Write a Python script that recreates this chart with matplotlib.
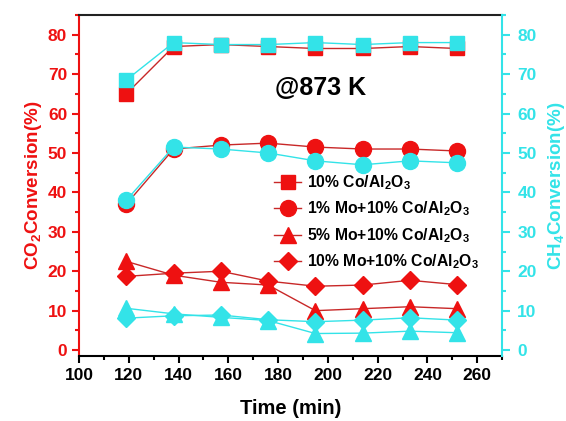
import matplotlib
matplotlib.use("Agg")
import matplotlib.pyplot as plt
from matplotlib.ticker import MultipleLocator

plt.rcParams['font.family'] = ['Liberation Sans', 'DejaVu Sans']
plt.rcParams['font.weight'] = 'bold'
plt.rcParams['mathtext.fontset'] = 'custom'
plt.rcParams['mathtext.rm'] = 'Liberation Sans:bold'
plt.rcParams['mathtext.bf'] = 'Liberation Sans:bold'
plt.rcParams['mathtext.default'] = 'rm'

# time on stream (min)
time_min = [119, 138, 157, 176, 195, 214, 233, 252]

# CO2 conversion (%)
co2_co = [65, 77, 77.5, 77, 76.5, 76.5, 77, 76.5]
co2_mo1 = [37, 51, 52, 52.5, 51.5, 51, 51, 50.5]
co2_mo5 = [22.5, 19, 17.2, 16.5, 10, 10.5, 11, 10.5]
co2_mo10 = [18.7, 19.5, 20, 17.5, 16.2, 16.5, 17.7, 16.6]

# CH4 conversion (%)
ch4_co = [68.5, 78, 77.5, 77.5, 78, 77.5, 78, 78]
ch4_mo1 = [38, 51.5, 51, 50, 48, 47, 48, 47.5]
ch4_mo5 = [10.6, 9.2, 8.3, 7.5, 4.2, 4.3, 4.8, 4.4]
ch4_mo10 = [8.1, 8.7, 8.9, 7.7, 7.2, 7.6, 8.2, 7.6]

labels = [r'10% Co/Al$_2$O$_3$', r'1% Mo+10% Co/Al$_2$O$_3$',
          r'5% Mo+10% Co/Al$_2$O$_3$', r'10% Mo+10% Co/Al$_2$O$_3$']
markers = ['s', 'o', '^', 'D']
sizes = [10, 11.5, 11, 9]

red = '#ee1111'
red_line = '#c82828'
cyan = '#33e3e8'

fig = plt.figure(figsize=(5.66, 4.21), dpi=100)
ax = fig.add_axes([0.1396, 0.1544, 0.7474, 0.81])
ax2 = ax.twinx()

handles = []
for ys, m, s, lab in zip([co2_co, co2_mo1, co2_mo5, co2_mo10], markers, sizes, labels):
    h, = ax.plot(time_min, ys, color=red_line, lw=1, marker=m, ms=s,
                 mfc=red, mec=red, label=lab)
    handles.append(h)

for ys, m, s in zip([ch4_co, ch4_mo1, ch4_mo5, ch4_mo10], markers, sizes):
    ax2.plot(time_min, ys, color=cyan, lw=1, marker=m, ms=s, mfc=cyan, mec=cyan)

ax.set_xlim(100, 270)
ax.set_ylim(-1.5, 85)
ax2.set_ylim(-1.5, 85)

ax.xaxis.set_major_locator(MultipleLocator(20))
ax.xaxis.set_minor_locator(MultipleLocator(10))
for a in (ax, ax2):
    a.yaxis.set_major_locator(MultipleLocator(10))
    a.yaxis.set_minor_locator(MultipleLocator(5))

# spines
ax.spines['left'].set_color(red)
ax.spines['right'].set_visible(False)
ax2.spines['left'].set_visible(False)
ax2.spines['top'].set_visible(False)
ax2.spines['bottom'].set_visible(False)
ax2.spines['right'].set_color(cyan)
for sp in ['left', 'top', 'bottom']:
    ax.spines[sp].set_linewidth(1.5)
ax2.spines['right'].set_linewidth(1.5)
ax.spines['top'].set_color('#222222')

ax.tick_params(axis='x', which='both', direction='out', width=1.5, labelsize=12.5)
ax.tick_params(axis='x', which='major', length=5)
ax.tick_params(axis='x', which='minor', length=3)
ax.tick_params(axis='y', which='both', direction='out', width=1.5, colors=red, labelsize=12.5)
ax.tick_params(axis='y', which='major', length=5)
ax.tick_params(axis='y', which='minor', length=3)
ax2.tick_params(axis='y', which='both', direction='out', width=1.5, colors=cyan, labelsize=12.5)
ax2.tick_params(axis='y', which='major', length=6, pad=5)
ax2.tick_params(axis='y', which='minor', length=3)

ax.set_xlabel('Time (min)', fontsize=14.5, fontweight='bold', labelpad=12)
ax.set_ylabel(r'CO$_2$Conversion(%)', fontsize=13.5, fontweight='bold', color=red, labelpad=3)
ax2.set_ylabel(r'CH$_4$Conversion(%)', fontsize=13.5, fontweight='bold', color=cyan, labelpad=7)

ax.text(0.463, 0.786, '@873 K', transform=ax.transAxes, fontsize=18,
        fontweight='bold', va='center')

ax2.legend(handles, labels, loc='upper left', bbox_to_anchor=(0.447, 0.555),
           frameon=False, fontsize=11.3, handlelength=1.7, handletextpad=0.35,
           labelspacing=0.5, borderaxespad=0)

fig.savefig('out.png', dpi=100)
